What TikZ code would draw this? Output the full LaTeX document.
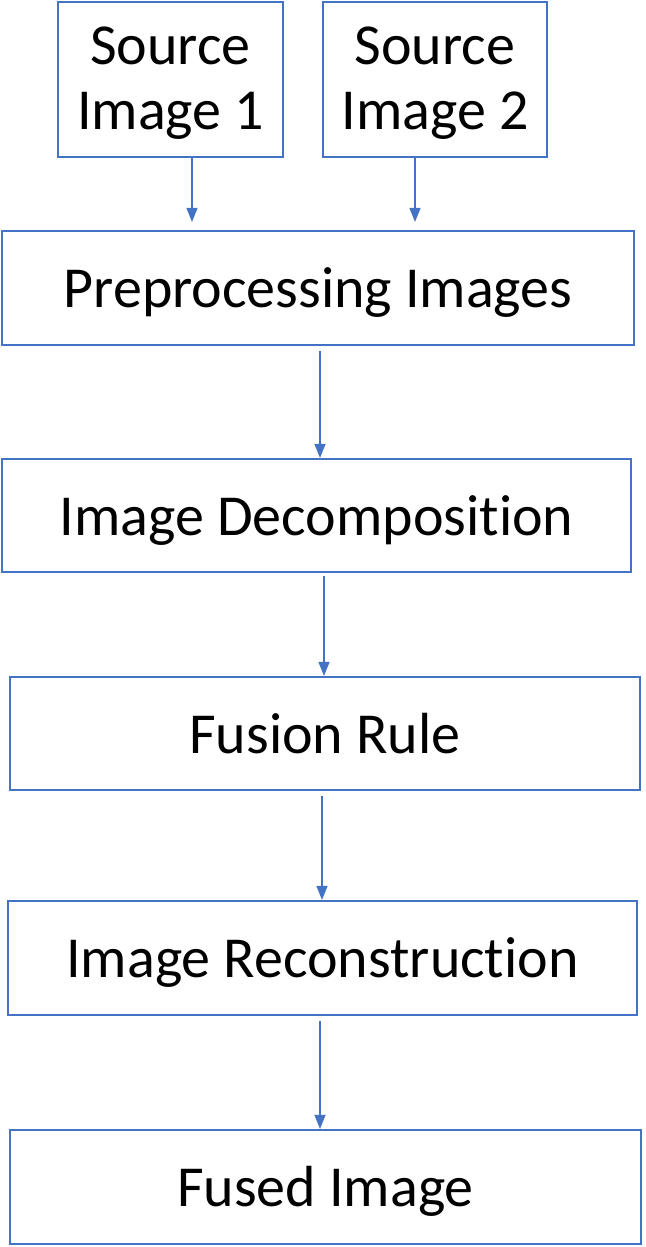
\documentclass[tikz,border=0pt]{standalone}
\usepackage{fontspec}
\setmainfont{Carlito}[Ligatures=NoCommon]
\usetikzlibrary{arrows.meta}
\definecolor{obl}{HTML}{4472C4}
\begin{document}
\begin{tikzpicture}[x=0.5pt,y=-0.5pt,
  box/.style={draw=obl, line width=1.1pt, fill=white, inner sep=0pt, align=center,
    font=\fontsize{29}{32.5}\selectfont},
  one/.style={box, text height=22pt, text depth=2.5pt},
  two/.style={box, text height=52pt, text depth=1.5pt},
  arr/.style={draw=obl, line width=0.6pt, -{Triangle[length=7pt,width=5.5pt]}}]
\useasboundingbox (0,0) rectangle (646,1247);
\node[two, minimum width=112.5pt, minimum height=77.5pt] (s1) at (170.5,79.5) {Source\\Image 1};
\node[two, minimum width=112pt, minimum height=77.5pt] (s2) at (435,79.5) {Source\\Image 2};
\node[one, minimum width=316pt, minimum height=57pt] (pre) at (318,288) {Preprocessing Images};
\node[one, minimum width=314.5pt, minimum height=56.5pt] (dec) at (316.5,515.5) {Image Decomposition};
\node[one, minimum width=315pt, minimum height=56.5pt] (fus) at (325,733.5) {Fusion Rule};
\node[one, minimum width=314.5pt, minimum height=57pt] (rec) at (322.5,958) {Image Reconstruction};
\node[one, minimum width=315.5pt, minimum height=57pt] (fim) at (325.5,1187) {Fused Image};
\draw[arr, shorten >=4pt] ([xshift=10.75pt]s1.south) -- ([xshift=10.75pt]s1.south |- pre.north);
\draw[arr, shorten >=4pt] ([xshift=-10pt]s2.south) -- ([xshift=-10pt]s2.south |- pre.north);
\draw[arr, shorten <=2.5pt] ([xshift=1pt]pre.south) -- ([xshift=1pt]pre.south |- dec.north);
\draw[arr, shorten <=1.5pt] ([xshift=3.75pt]dec.south) -- ([xshift=3.75pt]dec.south |- fus.north);
\draw[arr, shorten <=2.5pt] ([xshift=-1.5pt]fus.south) -- ([xshift=-1.5pt]fus.south |- rec.north);
\draw[arr, shorten <=2.5pt] ([xshift=-1.25pt]rec.south) -- ([xshift=-1.25pt]rec.south |- fim.north);
\end{tikzpicture}
\end{document}
